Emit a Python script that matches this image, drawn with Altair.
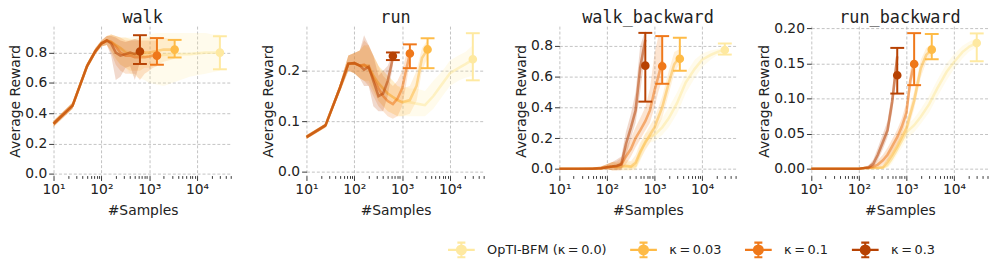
import altair as alt
import pandas as pd

TASKS = ["walk", "run", "walk_backward", "run_backward"]
SERIES = ["OpTI-BFM (κ\u2009=\u20090.0)", "κ\u2009=\u20090.03", "κ\u2009=\u20090.1", "κ\u2009=\u20090.3"]
COLORS = ["#fee9a1", "#febb47", "#ef781a", "#b74203"]

# sample counts: shared start, then one continuation per series (K00, K003, K01, K03)
EARLY_X = [10, 25, 50, 75, 100, 130]
X_REST_K00 = [160, 200, 250, 320, 400, 500, 640, 800, 1000, 1450, 2000, 3000, 4500, 7000, 10000, 15000, 21000, 30000]
X_REST_K003 = [160, 200, 250, 320, 400, 500, 640, 800, 1000, 1450, 2000, 2600, 3400]
X_REST_K01 = [160, 200, 250, 320, 400, 500, 640, 800, 1000, 1200, 1450]
X_REST_K03 = [160, 200, 250, 320, 400, 500, 640]
ERR_X = [30000, 3400, 1450, 640]

# ---------------- walk ----------------
WALK_EARLY_MEAN = [0.33, 0.45, 0.71, 0.81, 0.86, 0.88]
WALK_EARLY_LO = [0.31, 0.43, 0.69, 0.79, 0.84, 0.85]
WALK_EARLY_HI = [0.35, 0.47, 0.73, 0.83, 0.88, 0.91]
WALK_K00_MEAN = [0.87, 0.85, 0.83, 0.81, 0.80, 0.79, 0.78, 0.78, 0.78, 0.78, 0.785, 0.79, 0.79, 0.79, 0.795, 0.80, 0.80, 0.80]
WALK_K00_LO = [0.81, 0.76, 0.72, 0.70, 0.66, 0.64, 0.63, 0.62, 0.60, 0.59, 0.58, 0.60, 0.62, 0.64, 0.65, 0.66, 0.67, 0.68]
WALK_K00_HI = [0.92, 0.91, 0.90, 0.90, 0.90, 0.91, 0.91, 0.92, 0.92, 0.93, 0.93, 0.93, 0.93, 0.93, 0.93, 0.93, 0.92, 0.92]
WALK_K003_MEAN = [0.87, 0.85, 0.83, 0.80, 0.79, 0.79, 0.79, 0.80, 0.80, 0.81, 0.82, 0.82, 0.82]
WALK_K003_LO = [0.81, 0.76, 0.72, 0.70, 0.68, 0.68, 0.68, 0.70, 0.70, 0.72, 0.74, 0.75, 0.76]
WALK_K003_HI = [0.92, 0.91, 0.90, 0.90, 0.89, 0.89, 0.90, 0.90, 0.90, 0.90, 0.90, 0.89, 0.88]
WALK_K01_MEAN = [0.87, 0.84, 0.80, 0.78, 0.78, 0.77, 0.77, 0.77, 0.775, 0.78, 0.78]
WALK_K01_LO = [0.80, 0.72, 0.68, 0.66, 0.66, 0.66, 0.62, 0.66, 0.68, 0.70, 0.71]
WALK_K01_HI = [0.92, 0.91, 0.90, 0.88, 0.88, 0.88, 0.88, 0.88, 0.88, 0.88, 0.88]
WALK_K03_MEAN = [0.86, 0.80, 0.78, 0.79, 0.80, 0.79, 0.81]
WALK_K03_LO = [0.78, 0.62, 0.64, 0.70, 0.71, 0.62, 0.74]
WALK_K03_HI = [0.91, 0.90, 0.88, 0.87, 0.88, 0.89, 0.88]
WALK_ERR_MEAN = [0.80, 0.82, 0.78, 0.807]
WALK_ERR_LO = [0.69, 0.768, 0.72, 0.725]
WALK_ERR_HI = [0.908, 0.884, 0.896, 0.915]

# ---------------- run ----------------
RUN_EARLY_MEAN = [0.069, 0.092, 0.166, 0.214, 0.215, 0.21]
RUN_EARLY_LO = [0.065, 0.088, 0.158, 0.20, 0.195, 0.185]
RUN_EARLY_HI = [0.073, 0.096, 0.174, 0.23, 0.235, 0.24]
RUN_K00_MEAN = [0.21, 0.205, 0.19, 0.175, 0.165, 0.155, 0.148, 0.142, 0.138, 0.138, 0.135, 0.132, 0.15, 0.175, 0.195, 0.205, 0.213, 0.222]
RUN_K00_LO = [0.18, 0.175, 0.16, 0.14, 0.13, 0.12, 0.115, 0.11, 0.11, 0.11, 0.11, 0.11, 0.125, 0.15, 0.17, 0.18, 0.186, 0.19]
RUN_K00_HI = [0.25, 0.245, 0.23, 0.21, 0.20, 0.19, 0.18, 0.17, 0.17, 0.165, 0.165, 0.16, 0.18, 0.20, 0.22, 0.23, 0.237, 0.25]
RUN_K003_MEAN = [0.21, 0.21, 0.19, 0.175, 0.165, 0.155, 0.148, 0.142, 0.138, 0.142, 0.17, 0.225, 0.242]
RUN_K003_LO = [0.18, 0.18, 0.16, 0.14, 0.13, 0.12, 0.115, 0.11, 0.11, 0.115, 0.14, 0.20, 0.225]
RUN_K003_HI = [0.25, 0.25, 0.23, 0.21, 0.20, 0.19, 0.18, 0.17, 0.165, 0.17, 0.20, 0.245, 0.26]
RUN_K01_MEAN = [0.212, 0.205, 0.185, 0.165, 0.15, 0.14, 0.134, 0.145, 0.165, 0.20, 0.234]
RUN_K01_LO = [0.18, 0.17, 0.15, 0.13, 0.12, 0.11, 0.105, 0.11, 0.13, 0.17, 0.22]
RUN_K01_HI = [0.26, 0.25, 0.23, 0.21, 0.19, 0.18, 0.17, 0.18, 0.20, 0.23, 0.245]
RUN_K03_MEAN = [0.202, 0.208, 0.18, 0.15, 0.155, 0.18, 0.225]
RUN_K03_LO = [0.17, 0.17, 0.13, 0.12, 0.12, 0.15, 0.21]
RUN_K03_HI = [0.27, 0.25, 0.23, 0.19, 0.20, 0.21, 0.235]
RUN_ERR_MEAN = [0.2225, 0.242, 0.234, 0.229]
RUN_ERR_LO = [0.181, 0.205, 0.205, 0.221]
RUN_ERR_HI = [0.274, 0.264, 0.252, 0.236]

# ---------------- walk_backward ----------------
WB_EARLY_MEAN = [0.0, 0.0, 0.0, 0.004, 0.01, 0.015]
WB_EARLY_LO = [-0.005, -0.005, -0.005, -0.005, -0.005, -0.01]
WB_EARLY_HI = [0.005, 0.005, 0.008, 0.015, 0.03, 0.045]
WB_K00_MEAN = [0.01, 0.012, 0.015, 0.01, 0.02, 0.10, 0.18, 0.21, 0.22, 0.27, 0.33, 0.43, 0.56, 0.65, 0.71, 0.74, 0.76, 0.775]
WB_K00_LO = [-0.01, -0.01, -0.01, -0.01, -0.01, 0.05, 0.13, 0.17, 0.18, 0.22, 0.27, 0.36, 0.49, 0.59, 0.66, 0.71, 0.74, 0.76]
WB_K00_HI = [0.04, 0.04, 0.05, 0.04, 0.06, 0.15, 0.23, 0.25, 0.27, 0.33, 0.40, 0.50, 0.62, 0.71, 0.75, 0.77, 0.78, 0.79]
WB_K003_MEAN = [0.01, 0.015, 0.02, 0.015, 0.04, 0.11, 0.17, 0.22, 0.27, 0.40, 0.56, 0.68, 0.73]
WB_K003_LO = [-0.01, -0.01, -0.01, -0.01, 0.0, 0.06, 0.12, 0.17, 0.22, 0.33, 0.49, 0.62, 0.69]
WB_K003_HI = [0.04, 0.05, 0.06, 0.05, 0.09, 0.17, 0.23, 0.28, 0.33, 0.47, 0.64, 0.76, 0.78]
WB_K01_MEAN = [0.015, 0.03, 0.08, 0.13, 0.20, 0.25, 0.31, 0.38, 0.51, 0.60, 0.70]
WB_K01_LO = [-0.01, 0.0, 0.03, 0.08, 0.14, 0.19, 0.25, 0.30, 0.40, 0.50, 0.58]
WB_K01_HI = [0.05, 0.07, 0.14, 0.20, 0.27, 0.33, 0.40, 0.52, 0.75, 0.86, 0.87]
WB_K03_MEAN = [0.02, 0.03, 0.16, 0.27, 0.38, 0.66, 0.84]
WB_K03_LO = [-0.01, -0.01, 0.08, 0.20, 0.30, 0.50, 0.76]
WB_K03_HI = [0.06, 0.08, 0.24, 0.36, 0.50, 0.80, 0.90]
WB_ERR_MEAN = [0.773, 0.716, 0.667, 0.671]
WB_ERR_LO = [0.743, 0.638, 0.553, 0.437]
WB_ERR_HI = [0.815, 0.853, 0.863, 0.884]

# ---------------- run_backward ----------------
RB_EARLY_MEAN = [0.0, 0.0, 0.0, 0.0, 0.0, 0.001]
RB_EARLY_LO = [-0.001, -0.001, -0.001, -0.001, -0.001, 0.0]
RB_EARLY_HI = [0.001, 0.001, 0.001, 0.001, 0.001, 0.002]
RB_K00_MEAN = [0.001, 0.001, 0.001, 0.001, 0.005, 0.015, 0.028, 0.04, 0.052, 0.062, 0.074, 0.092, 0.115, 0.138, 0.152, 0.166, 0.174, 0.179]
RB_K00_LO = [0.0, 0.0, 0.0, 0.0, 0.001, 0.008, 0.02, 0.03, 0.042, 0.052, 0.064, 0.08, 0.103, 0.126, 0.142, 0.157, 0.167, 0.173]
RB_K00_HI = [0.002, 0.002, 0.003, 0.003, 0.01, 0.022, 0.036, 0.05, 0.062, 0.072, 0.085, 0.104, 0.127, 0.15, 0.163, 0.175, 0.181, 0.186]
RB_K003_MEAN = [0.001, 0.001, 0.001, 0.002, 0.01, 0.02, 0.032, 0.045, 0.058, 0.097, 0.143, 0.162, 0.17]
RB_K003_LO = [0.0, 0.0, 0.0, 0.0, 0.004, 0.012, 0.024, 0.036, 0.048, 0.085, 0.13, 0.152, 0.162]
RB_K003_HI = [0.002, 0.002, 0.003, 0.006, 0.016, 0.028, 0.04, 0.054, 0.068, 0.11, 0.155, 0.172, 0.178]
RB_K01_MEAN = [0.001, 0.003, 0.006, 0.012, 0.02, 0.032, 0.045, 0.06, 0.08, 0.125, 0.15]
RB_K01_LO = [0.0, 0.0, 0.002, 0.006, 0.013, 0.024, 0.036, 0.05, 0.07, 0.11, 0.14]
RB_K01_HI = [0.003, 0.006, 0.012, 0.02, 0.03, 0.042, 0.056, 0.072, 0.095, 0.14, 0.16]
RB_K03_MEAN = [0.002, 0.007, 0.02, 0.038, 0.055, 0.095, 0.16]
RB_K03_LO = [0.0, 0.002, 0.012, 0.028, 0.045, 0.08, 0.14]
RB_K03_HI = [0.005, 0.013, 0.03, 0.05, 0.068, 0.11, 0.175]
RB_ERR_MEAN = [0.179, 0.1695, 0.149, 0.133]
RB_ERR_LO = [0.153, 0.156, 0.119, 0.107]
RB_ERR_HI = [0.1926, 0.1917, 0.193, 0.172]

# axis settings per panel
Y_DOMAINS = [[-0.012, 0.975], [-0.007, 0.288], [-0.044, 0.928], [-0.0097, 0.203]]
Y_TICKS = [[0, 0.2, 0.4, 0.6, 0.8], [0, 0.1, 0.2], [0, 0.2, 0.4, 0.6, 0.8], [0, 0.05, 0.1, 0.15, 0.2]]
Y_FORMATS = [".1f", ".1f", ".1f", ".2f"]
X_MAJOR = [10, 100, 1000, 10000]
X_MINOR = [20, 30, 40, 50, 60, 70, 80, 90, 200, 300, 400, 500, 600, 700, 800, 900,
           2000, 3000, 4000, 5000, 6000, 7000, 8000, 9000, 20000, 30000, 40000, 50000]
PANEL_WIDTHS = [180, 180, 179, 179]

X_RESTS = [X_REST_K00, X_REST_K003, X_REST_K01, X_REST_K03]
TASK_DATA = {
    "walk": (WALK_EARLY_MEAN, WALK_EARLY_LO, WALK_EARLY_HI,
             [(WALK_K00_MEAN, WALK_K00_LO, WALK_K00_HI), (WALK_K003_MEAN, WALK_K003_LO, WALK_K003_HI),
              (WALK_K01_MEAN, WALK_K01_LO, WALK_K01_HI), (WALK_K03_MEAN, WALK_K03_LO, WALK_K03_HI)],
             (WALK_ERR_MEAN, WALK_ERR_LO, WALK_ERR_HI)),
    "run": (RUN_EARLY_MEAN, RUN_EARLY_LO, RUN_EARLY_HI,
            [(RUN_K00_MEAN, RUN_K00_LO, RUN_K00_HI), (RUN_K003_MEAN, RUN_K003_LO, RUN_K003_HI),
             (RUN_K01_MEAN, RUN_K01_LO, RUN_K01_HI), (RUN_K03_MEAN, RUN_K03_LO, RUN_K03_HI)],
            (RUN_ERR_MEAN, RUN_ERR_LO, RUN_ERR_HI)),
    "walk_backward": (WB_EARLY_MEAN, WB_EARLY_LO, WB_EARLY_HI,
                      [(WB_K00_MEAN, WB_K00_LO, WB_K00_HI), (WB_K003_MEAN, WB_K003_LO, WB_K003_HI),
                       (WB_K01_MEAN, WB_K01_LO, WB_K01_HI), (WB_K03_MEAN, WB_K03_LO, WB_K03_HI)],
                      (WB_ERR_MEAN, WB_ERR_LO, WB_ERR_HI)),
    "run_backward": (RB_EARLY_MEAN, RB_EARLY_LO, RB_EARLY_HI,
                     [(RB_K00_MEAN, RB_K00_LO, RB_K00_HI), (RB_K003_MEAN, RB_K003_LO, RB_K003_HI),
                      (RB_K01_MEAN, RB_K01_LO, RB_K01_HI), (RB_K03_MEAN, RB_K03_LO, RB_K03_HI)],
                     (RB_ERR_MEAN, RB_ERR_LO, RB_ERR_HI)),
}

LEGEND_SYMBOL = ("M-1,0H1M0,-0.55V0.55M-0.3,-0.55H0.3M-0.3,0.55H0.3"
                 "M0.33,0A0.33,0.33,0,1,1,-0.33,0A0.33,0.33,0,1,1,0.33,0Z")

MAJOR_TEST = "indexof([10,100,1000,10000], datum.value) >= 0"
LABEL_EXPR = ("datum.value == 10 ? '10¹' : datum.value == 100 ? '10²' : "
              "datum.value == 1000 ? '10³' : datum.value == 10000 ? '10⁴' : ''")

color_scale = alt.Scale(domain=SERIES, range=COLORS)
legend = alt.Legend(
    title=None, orient="none", legendX=397, legendY=211, direction="horizontal",
    columns=4, symbolType=LEGEND_SYMBOL, symbolSize=729, symbolStrokeWidth=2.2,
    labelFontSize=13, labelOffset=11, columnPadding=19, labelColor="#222",
)


def make_panel(idx, task):
    early_m, early_lo, early_hi, rests, errs = TASK_DATA[task]
    xscale = alt.Scale(type="log", domain=[10, 53000], nice=False)
    yscale = alt.Scale(domain=Y_DOMAINS[idx], nice=False, zero=False)
    xaxis = alt.Axis(
        values=X_MAJOR + X_MINOR, labelExpr=LABEL_EXPR, labelFlush=False, labelOverlap=False,
        tickSize={"condition": {"test": MAJOR_TEST, "value": 4.9}, "value": 2.8},
        gridOpacity={"condition": {"test": MAJOR_TEST, "value": 1}, "value": 0},
    )
    yaxis = alt.Axis(values=Y_TICKS[idx], format=Y_FORMATS[idx], labelFlush=False)

    def X():
        return alt.X("x:Q", scale=xscale, axis=xaxis, title="#Samples")

    def Y(field):
        return alt.Y(field, type="quantitative", scale=yscale, axis=yaxis, title="Average Reward")

    curve_layers, err_layers = [], []
    for i, s in enumerate(SERIES):
        m, lo, hi = rests[i]
        cdf = pd.DataFrame({
            "x": EARLY_X + X_RESTS[i],
            "mean": early_m + m,
            "lo": early_lo + lo,
            "hi": early_hi + hi,
        })
        edf = pd.DataFrame({"series": [s], "x": [ERR_X[i]], "mean": [errs[0][i]],
                            "lo": [errs[1][i]], "hi": [errs[2][i]]})
        c = COLORS[i]
        curve_layers.append(alt.Chart(cdf).mark_area(color=c, opacity=0.2, strokeWidth=0)
                            .encode(x=X(), y=Y("lo"), y2="hi:Q"))
        curve_layers.append(alt.Chart(cdf).mark_line(color=c, strokeWidth=2.6, opacity=0.55)
                            .encode(x=X(), y=Y("mean")))
        err_layers.append(alt.Chart(edf).mark_rule(color=c, strokeWidth=2)
                          .encode(x=X(), y=Y("lo"), y2="hi:Q"))
        for fld in ["lo", "hi"]:
            err_layers.append(alt.Chart(edf).mark_tick(orient="horizontal", size=14, thickness=2,
                                                       color=c, opacity=1)
                              .encode(x=X(), y=Y(fld)))
        err_layers.append(alt.Chart(edf).mark_point(filled=True, size=45, opacity=1, strokeWidth=2)
                          .encode(x=X(), y=Y("mean"),
                                  fill=alt.Fill("series:N", scale=color_scale, legend=legend),
                                  stroke=alt.Stroke("series:N", scale=color_scale, legend=legend)))
    title_layer = (
        alt.Chart(pd.DataFrame({"t": [task]}))
        .mark_text(font="DejaVu Sans Mono", fontSize=17, baseline="alphabetic", align="center",
                   color="#222")
        .encode(text="t:N", x=alt.value(PANEL_WIDTHS[idx] / 2), y=alt.value(-3))
    )
    return alt.layer(*(curve_layers + err_layers + [title_layer])).properties(
        width=PANEL_WIDTHS[idx], height=151,
    )


panels = [make_panel(i, t) for i, t in enumerate(TASKS)]

chart = (
    alt.hconcat(*panels, spacing=75.5, bounds="flush")
    .properties(padding={"left": 0, "top": 0, "right": 0, "bottom": 0})
    .configure(font="DejaVu Sans")
    .configure_view(stroke=None)
    .configure_axis(
        labelFontSize=14, titleFontSize=14, titleFontWeight="normal",
        labelColor="#222", titleColor="#222", tickColor="#222", tickWidth=0.9,
        domain=False, gridColor="#b3b3b3", gridDash=[3, 2], gridWidth=0.8,
        tickSize=4.9,
    )
    .configure_axisX(labelPadding=2, titlePadding=7)
    .configure_axisY(labelPadding=2, titlePadding=2)
)

chart.save("out.html", embed_options={"renderer": "svg", "actions": False})
